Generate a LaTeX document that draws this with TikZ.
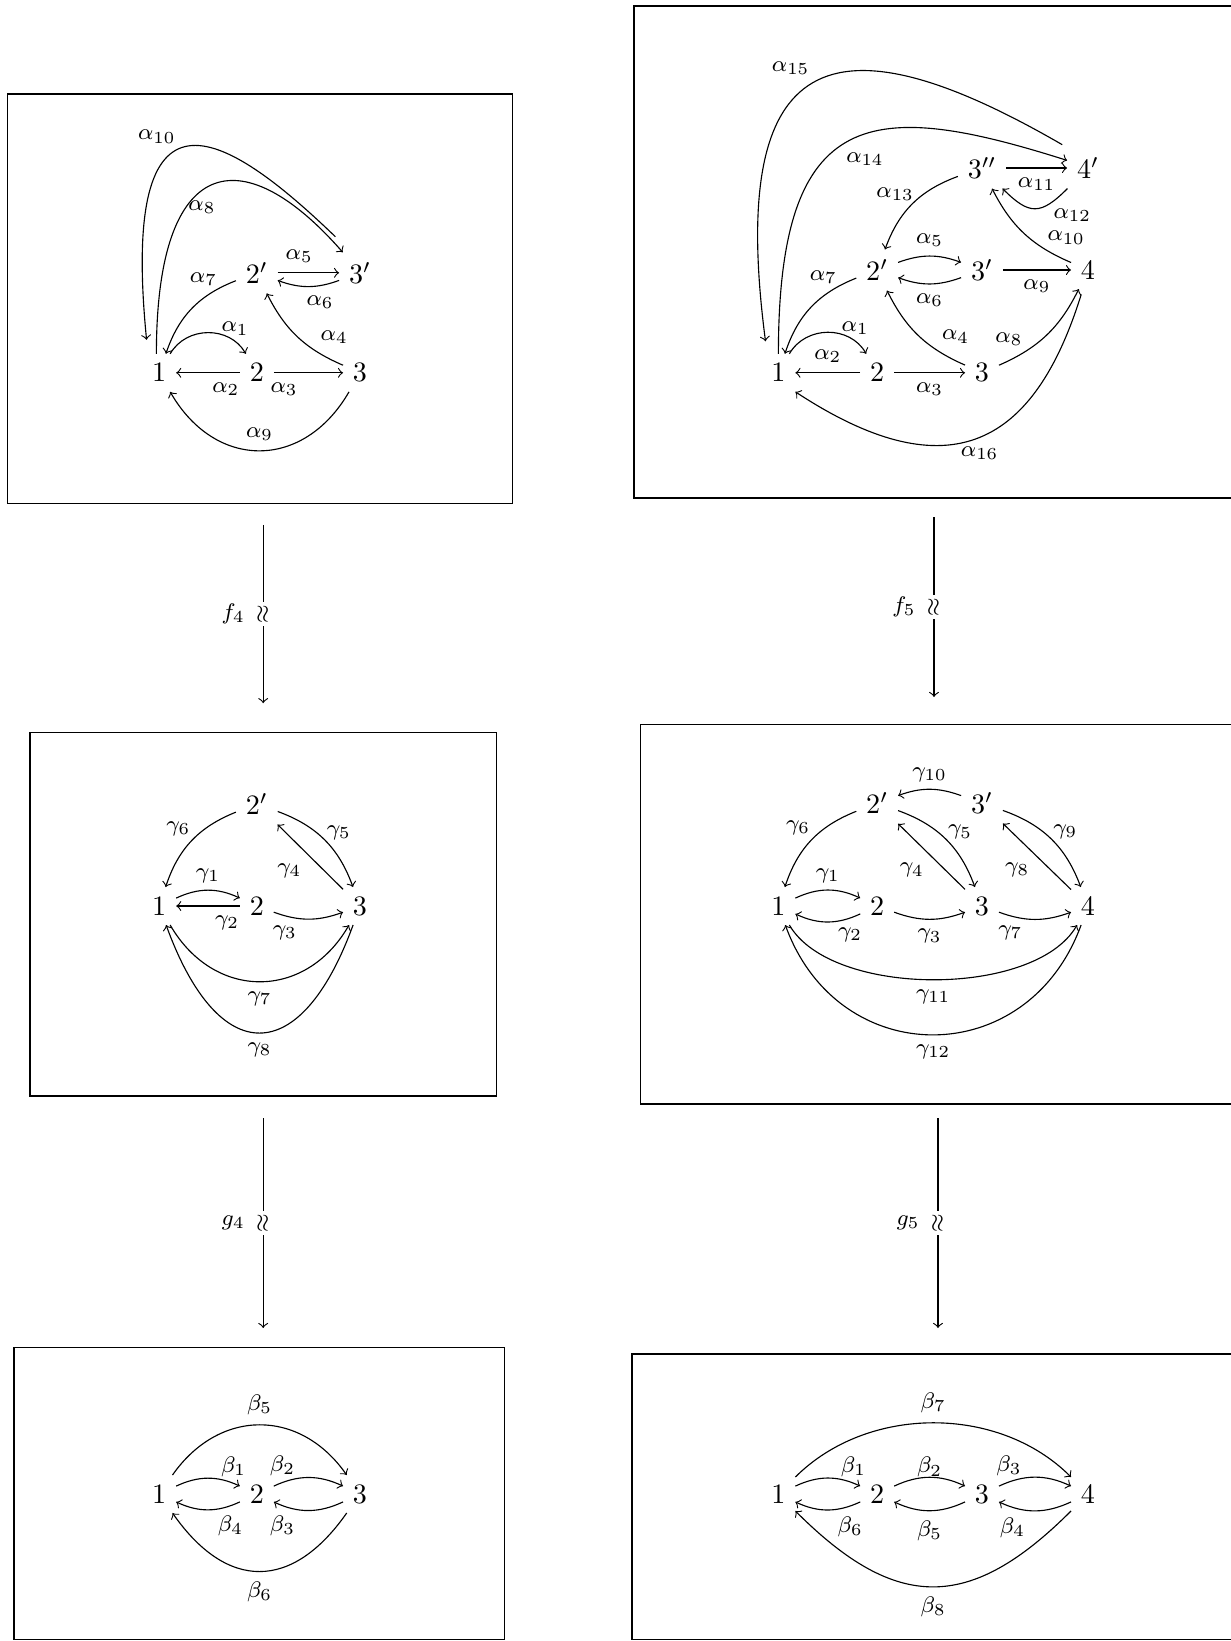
\documentclass[tikz,border=0pt]{standalone}
\usepackage{amsmath, amssymb}
\usepackage{tikz}

\tikzset{lbl/.style={font=\footnotesize},
  iso/.style={fill=white, rotate=90, inner sep=1pt, font=\footnotesize}}

\begin{document}
\begin{tikzpicture}
\useasboundingbox (0,0) rectangle (15.3875,-20.5125);
\clip (0,0) rectangle (15.3875,-20.5125);

%% frames
\draw (0.09,-1.175) rectangle (6.41,-6.29);
\draw (7.925,-0.075) rectangle (15.6,-6.225);
\draw (0.375,-9.16) rectangle (6.21,-13.7);
\draw (8.01,-9.06) rectangle (15.6,-13.8);
\draw (0.175,-16.84) rectangle (6.31,-20.49);
\draw (7.9,-16.925) rectangle (15.6,-20.49);

%% vertices, top left
\node (al1) at (1.99,-4.66) {$1$};
\node (al2) at (3.21,-4.66) {$2$};
\node (al3) at (4.5,-4.66) {$3$};
\node (al2p) at (3.21,-3.41) {$2'$};
\node (al3p) at (4.5,-3.41) {$3'$};
%%% edges
\draw[->] (al1) to[bend left=60, looseness=1.1] node[lbl, pos=.75, above=-2.5pt, xshift=2pt] {$\alpha_1$} (al2);
\draw[->] (al2) -- node[lbl, pos=.22, below] {$\alpha_2$} (al1);
\draw[->] (al2) -- node[lbl, pos=.15, below] {$\alpha_3$} (al3);
\draw[->] (al3) to[bend left=20] node[lbl, pos=.25, above right, xshift=-2.5pt, yshift=-.5pt] {$\alpha_4$} (al2p);
\draw[->] (al2p) -- node[lbl, pos=.35, above] {$\alpha_5$} (al3p);
\draw[->] (al3p) to[bend left=20] node[lbl, pos=.3, below] {$\alpha_6$} (al2p);
\draw[->] (al2p) to[bend right=25] node[lbl, pos=.2, above left=-2pt, xshift=2pt] {$\alpha_7$} (al1);
\draw[->] ([xshift=-1pt]al1.north) .. controls +(0,2.5) and +(-1.26,1.44) .. node[lbl, pos=.45, below] {$\alpha_8$} (al3p.130);
\draw[->] (al3) to[bend left=60, looseness=1.3] node[lbl, above] {$\alpha_9$} (al1);
\draw[->, shorten <=8pt, shorten >=5pt] ([xshift=-3pt]al3p.north) .. controls +(-1.62,1.56) and +(-0.35,3.55) .. node[lbl, pos=.55, above left, xshift=2pt] {$\alpha_{10}$} ([xshift=-4pt]al1.north);

%% vertices, top right
\node (ar1) at (9.73,-4.66) {$1$};
\node (ar2) at (10.965,-4.66) {$2$};
\node (ar3) at (12.275,-4.66) {$3$};
\node (ar2p) at (10.965,-3.375) {$2'$};
\node (ar3p) at (12.275,-3.375) {$3'$};
\node (ar4) at (13.6,-3.375) {$4$};
\node (ar3pp) at (12.275,-2.1) {$3''$};
\node (ar4p) at (13.6,-2.1) {$4'$};
%%% edges
\draw[->] (ar1) to[bend left=60, looseness=1.1] node[lbl, pos=.75, above=-2.5pt, xshift=2pt] {$\alpha_1$} (ar2);
\draw[->] (ar2) -- node[lbl, above] {$\alpha_2$} (ar1);
\draw[->] (ar2) -- node[lbl, below] {$\alpha_3$} (ar3);
\draw[->] (ar3) to[bend left=20] node[lbl, pos=.25, above right, xshift=-2.5pt, yshift=-.5pt] {$\alpha_4$} (ar2p);
\draw[->] (ar2p) to[bend left=20] node[lbl, above] {$\alpha_5$} (ar3p);
\draw[->] (ar3p) to[bend left=20] node[lbl, below] {$\alpha_6$} (ar2p);
\draw[->] (ar2p) to[bend right=25] node[lbl, pos=.2, above left=-2pt, xshift=2pt] {$\alpha_7$} (ar1);
\draw[->] (ar3) to[bend right=20] node[lbl, pos=.25, above left, xshift=2.5pt, yshift=-1.3pt] {$\alpha_8$} (ar4);
\draw[->] (ar3p) -- node[lbl, below] {$\alpha_9$} (ar4);
\draw[->] (ar4) to[bend left=20] node[lbl, pos=.25, above right, xshift=-2.6pt, yshift=-1.7pt] {$\alpha_{10}$} (ar3pp);
\draw[->] (ar3pp) -- node[lbl, below] {$\alpha_{11}$} (ar4p);
\draw[->] (ar4p) to[bend left=45, looseness=1.5] node[lbl, pos=.15, below right, xshift=-4.5pt] {$\alpha_{12}$} (ar3pp);
\draw[->] (ar3pp) to[bend right=25] node[lbl, pos=.35, left] {$\alpha_{13}$} (ar2p);
\draw[->] (ar1.north) .. controls +(0,3.125) and +(-2.43,0.77) .. node[lbl, pos=.55, below=3pt] {$\alpha_{14}$} (ar4p.160);
\draw[->, shorten <=2pt, shorten >=4.5pt] (ar4p.north west) .. controls +(-2.95,1.71) and +(-0.5,3.82) .. node[lbl, pos=.5, above left, xshift=2pt] {$\alpha_{15}$} ([xshift=-4pt]ar1.north);
\draw[->, shorten <=2pt] (ar4.-105) .. controls +(-0.6,-1.93) and +(1.95,-1.28) .. node[lbl, pos=.5, below] {$\alpha_{16}$} (ar1.south east);

%% vertices, middle left
\node (gl1) at (1.99,-11.325) {$1$};
\node (gl2) at (3.21,-11.325) {$2$};
\node (gl3) at (4.5,-11.325) {$3$};
\node (gl2p) at (3.21,-10.05) {$2'$};
%%% edges
\draw[->] (gl1) to[bend left=25] node[lbl, above, yshift=-1pt] {$\gamma_1$} (gl2);
\draw[->] (gl2) -- node[lbl, pos=.2, below] {$\gamma_2$} (gl1);
\draw[->] (gl2) to[bend right=20] node[lbl, pos=.15, below] {$\gamma_3$} (gl3);
\draw[->] (gl3) -- node[lbl, pos=.55, below left, xshift=1.5pt] {$\gamma_4$} (gl2p);
\draw[->] (gl2p) to[bend left=25] node[lbl, pos=.4, right] {$\gamma_5$} (gl3);
\draw[->] (gl2p) to[bend right=25] node[lbl, pos=.38, left, yshift=1.5pt] {$\gamma_6$} (gl1);
\draw[->] (gl1) to[bend right=60, looseness=1.25] node[lbl, below] {$\gamma_7$} (gl3);
\draw[->] (gl3) to[bend left=70, looseness=2.1] node[lbl, below] {$\gamma_8$} (gl1);

%% vertices, middle right
\node (gr1) at (9.73,-11.325) {$1$};
\node (gr2) at (10.965,-11.325) {$2$};
\node (gr3) at (12.275,-11.325) {$3$};
\node (gr4) at (13.6,-11.325) {$4$};
\node (gr2p) at (10.965,-10.04) {$2'$};
\node (gr3p) at (12.275,-10.04) {$3'$};
%%% edges
\draw[->] (gr1) to[bend left=25] node[lbl, above, yshift=-1pt] {$\gamma_1$} (gr2);
\draw[->] (gr2) to[bend left=25] node[lbl, pos=.15, below] {$\gamma_2$} (gr1);
\draw[->] (gr2) to[bend right=20] node[lbl, below] {$\gamma_3$} (gr3);
\draw[->] (gr3) -- node[lbl, pos=.55, below left, xshift=2pt] {$\gamma_4$} (gr2p);
\draw[->] (gr2p) to[bend left=25] node[lbl, pos=.4, right] {$\gamma_5$} (gr3);
\draw[->] (gr2p) to[bend right=25] node[lbl, pos=.38, left, yshift=1.5pt] {$\gamma_6$} (gr1);
\draw[->] (gr3) to[bend right=20] node[lbl, pos=.15, below] {$\gamma_7$} (gr4);
\draw[->] (gr4) -- node[lbl, pos=.55, below left, xshift=2pt] {$\gamma_8$} (gr3p);
\draw[->] (gr3p) to[bend left=25] node[lbl, pos=.4, right] {$\gamma_9$} (gr4);
\draw[->] (gr3p) to[bend right=20] node[lbl, above, yshift=-1pt] {$\gamma_{10}$} (gr2p);
\draw[->] (gr1) to[bend right=60, looseness=.75] node[lbl, below] {$\gamma_{11}$} (gr4);
\draw[->] (gr4) to[bend left=70, looseness=1.35] node[lbl, below] {$\gamma_{12}$} (gr1);

%% vertices, bottom left
\node (bl1) at (1.99,-18.675) {$1$};
\node (bl2) at (3.21,-18.675) {$2$};
\node (bl3) at (4.5,-18.675) {$3$};
%%% edges
\draw[->] (bl1) to[bend left=25] node[lbl, pos=.55, above right, yshift=-3pt] {$\beta_1$} (bl2);
\draw[->] (bl2) to[bend left=25] node[lbl, pos=.45, above left, yshift=-3pt] {$\beta_2$} (bl3);
\draw[->] (bl3) to[bend left=25] node[lbl, pos=.55, below left, yshift=1.5pt] {$\beta_3$} (bl2);
\draw[->] (bl2) to[bend left=25] node[lbl, pos=.5, below right, yshift=1.5pt] {$\beta_4$} (bl1);
\draw[->] (bl1) to[bend left=55, looseness=1.2] node[lbl, above] {$\beta_5$} (bl3);
\draw[->] (bl3) to[bend left=55, looseness=1.4] node[lbl, below] {$\beta_6$} (bl1);

%% vertices, bottom right
\node (br1) at (9.73,-18.675) {$1$};
\node (br2) at (10.965,-18.675) {$2$};
\node (br3) at (12.275,-18.675) {$3$};
\node (br4) at (13.6,-18.675) {$4$};
%%% edges
\draw[->] (br1) to[bend left=25] node[lbl, pos=.55, above right, yshift=-3pt] {$\beta_1$} (br2);
\draw[->] (br2) to[bend left=25] node[lbl, above, yshift=-3.5pt] {$\beta_2$} (br3);
\draw[->] (br3) to[bend left=25] node[lbl, pos=.45, above left, yshift=-3pt] {$\beta_3$} (br4);
\draw[->] (br4) to[bend left=25] node[lbl, pos=.5, below left, yshift=1pt] {$\beta_4$} (br3);
\draw[->] (br3) to[bend left=25] node[lbl, below] {$\beta_5$} (br2);
\draw[->] (br2) to[bend left=25] node[lbl, pos=.5, below right, yshift=1pt] {$\beta_6$} (br1);
\draw[->] (br1) to[bend left=45, looseness=.95] node[lbl, above] {$\beta_7$} (br4);
\draw[->] (br4) to[bend left=45, looseness=1.33] node[lbl, below] {$\beta_8$} (br1);

%% maps between the quivers
\coordinate (f4a) at (3.29,-6.56);
\coordinate (f4b) at (3.29,-8.79);
\coordinate (f5a) at (11.675,-6.4625);
\coordinate (f5b) at (11.675,-8.7125);
\coordinate (g4a) at (3.29,-13.975);
\coordinate (g4b) at (3.29,-16.6);
\coordinate (g5a) at (11.725,-13.975);
\coordinate (g5b) at (11.725,-16.6);
\draw[->] (f4a) -- node[iso] {$\approx$} node[lbl, left=3pt] {$f_4$} (f4b);
\draw[->] (f5a) -- node[iso] {$\approx$} node[lbl, left=3pt] {$f_5$} (f5b);
\draw[->] (g4a) -- node[iso] {$\approx$} node[lbl, left=3pt] {$g_4$} (g4b);
\draw[->] (g5a) -- node[iso] {$\approx$} node[lbl, left=3pt] {$g_5$} (g5b);

\end{tikzpicture}
\end{document}
